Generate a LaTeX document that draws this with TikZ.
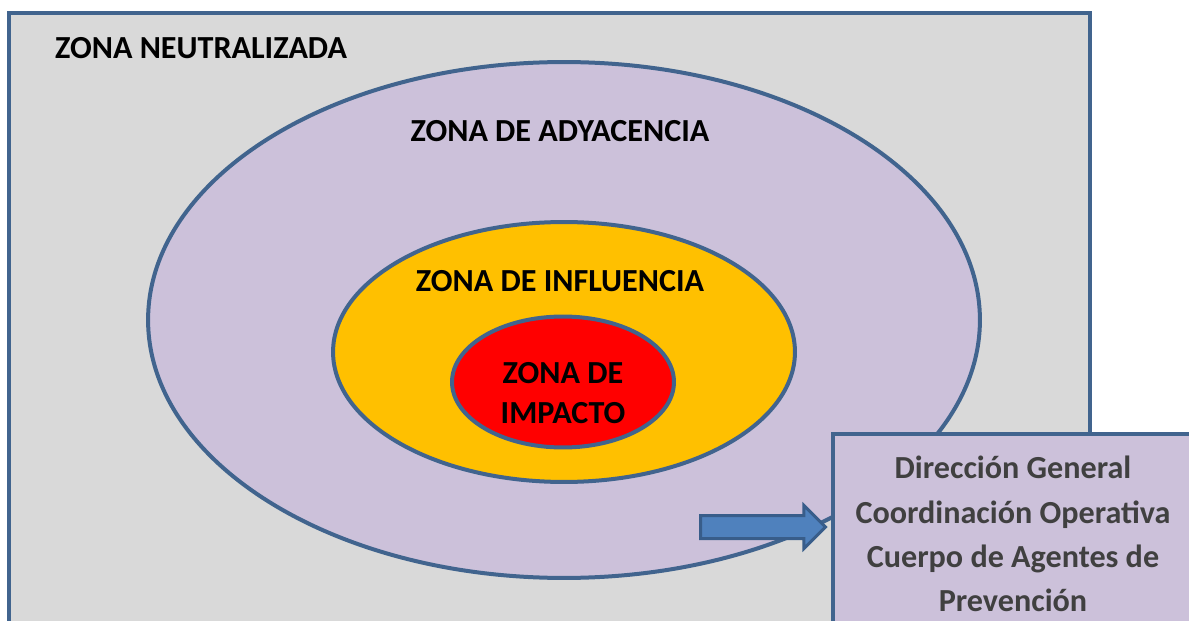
\documentclass[tikz,border=0pt]{standalone}
\usepackage{fontspec}
\setmainfont{Carlito}
\usepackage{tikz}
\usetikzlibrary{shapes.geometric,shapes.arrows}

\definecolor{zoneline}{HTML}{41648E}
\definecolor{grisbg}{HTML}{D9D9D9}
\definecolor{lila}{HTML}{CCC1DA}
\definecolor{amarillo}{HTML}{FFC000}
\definecolor{rojo}{HTML}{FF0000}
\definecolor{flecha}{HTML}{4F81BD}
\definecolor{flechaline}{HTML}{385D8A}
\definecolor{textgris}{HTML}{404040}

\begin{document}
\begin{tikzpicture}[
x=0.02cm, y=-0.02cm,
zone/.style={ellipse, draw=zoneline, line width=0.08cm, inner sep=0pt},
label/.style={font=\fontsize{18.3}{22}\selectfont\bfseries, text=black, align=center},
infobox/.style={rectangle, draw=zoneline, line width=0.08cm, fill=lila, anchor=north west, minimum width=7.4cm, minimum height=4.4cm},
bigarrow/.style={single arrow, draw=flechaline, fill=flecha, line width=0.06cm, minimum height=2.5cm, inner sep=0.2cm, single arrow head extend=0.2cm}]

\useasboundingbox (0,0) rectangle (1189,621);
\clip (0,0) rectangle (1189,621);

% zona neutralizada
\draw[draw=zoneline, fill=grisbg, line width=0.08cm] (9,13) rectangle (1090,660);
\node[label, anchor=west] (neutral) at (49,48) {ZONA NEUTRALIZADA};

% zonas concentricas
\node[zone, fill=lila, minimum width=16.64cm, minimum height=10.32cm] (adyacencia) at (564,320) {};
\node[zone, fill=amarillo, minimum width=9.24cm, minimum height=5.2cm] (influencia) at (564,352) {};
\node[zone, fill=rojo, minimum width=4.44cm, minimum height=2.62cm] (impacto) at (563,382) {};

\node[label] (adytxt) at (560,131) {ZONA DE ADYACENCIA};
\node[label] (inftxt) at (560,281) {ZONA DE INFLUENCIA};
\node[label, font=\fontsize{18.3}{23.2}\selectfont\bfseries] (imptxt) at (563,393) {ZONA DE\\IMPACTO};

% cuadro de responsables
\node[infobox] (cuerpo) at (831,432) {};
\node[label, text=textgris, font=\fontsize{18.3}{25.2}\selectfont\bfseries] (cuerpotxt) at (1013,534)
  {Dirección General\\Coordinación Operativa\\Cuerpo de Agentes de\\Prevención};

% flecha
\coordinate (tail) at (699,527);
\node[bigarrow, anchor=tail] (arrow) at (tail) {};
\end{tikzpicture}
\end{document}
